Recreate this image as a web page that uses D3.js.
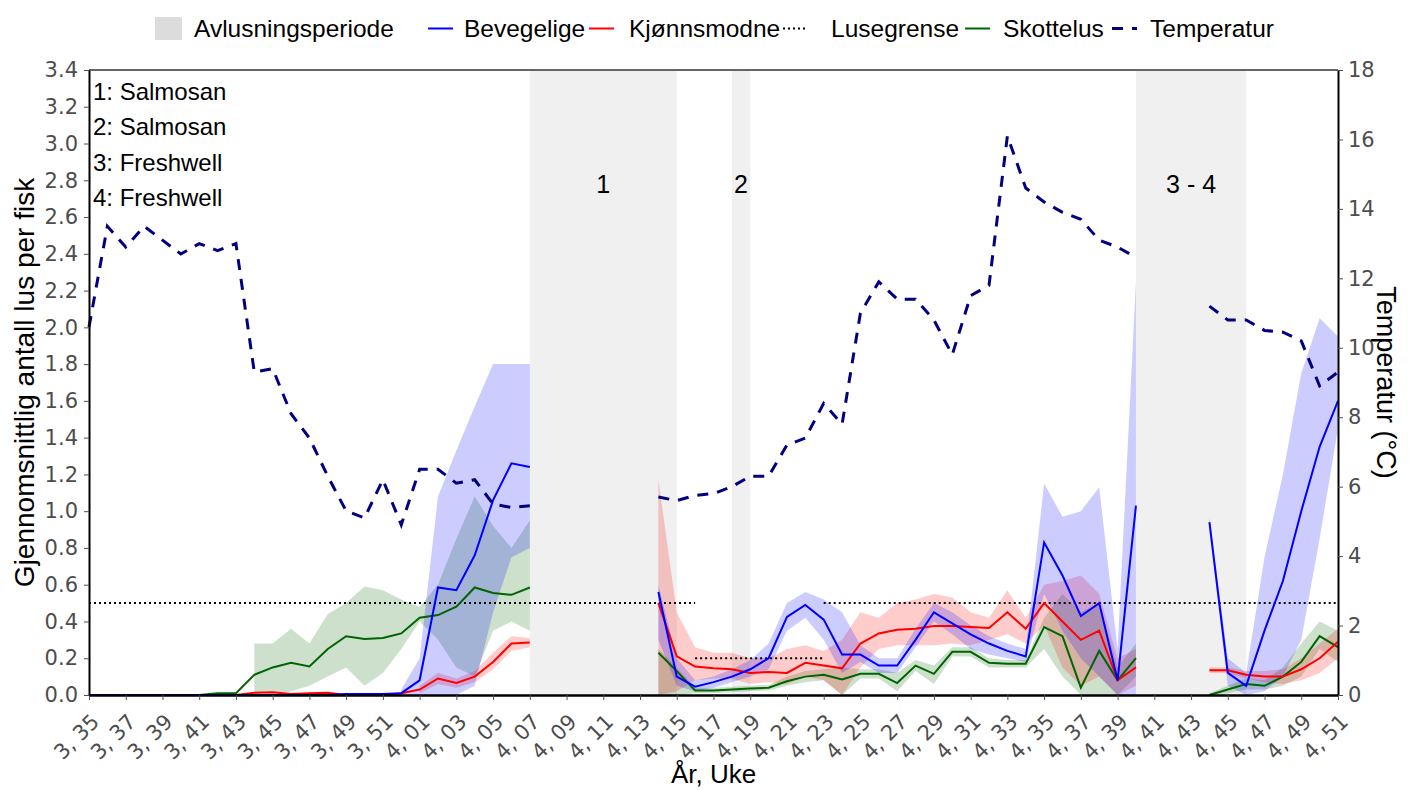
<!DOCTYPE html>
<html>
<head>
<meta charset="utf-8">
<script src="https://cdn.jsdelivr.net/npm/d3@7"></script>
<style>
  body { margin: 0; background: #fff; }
  text { font-family: "Liberation Sans", Arial, sans-serif; }
  .tick text { font-family: "DejaVu Sans", Verdana, sans-serif; }
</style>
</head>
<body>
<div id="d3-container"></div>
<script>
// weeks (year, week) on the x axis
const weeks = [
  '3, 35','3, 36','3, 37','3, 38','3, 39','3, 40','3, 41','3, 42','3, 43','3, 44','3, 45','3, 46','3, 47','3, 48','3, 49','3, 50','3, 51','3, 52',
  '4, 01','4, 02','4, 03','4, 04','4, 05','4, 06','4, 07','4, 08','4, 09','4, 10','4, 11','4, 12','4, 13','4, 14','4, 15','4, 16','4, 17','4, 18',
  '4, 19','4, 20','4, 21','4, 22','4, 23','4, 24','4, 25','4, 26','4, 27','4, 28','4, 29','4, 30','4, 31','4, 32','4, 33','4, 34','4, 35',
  '4, 36','4, 37','4, 38','4, 39','4, 40','4, 41','4, 42','4, 43','4, 44','4, 45','4, 46','4, 47','4, 48','4, 49','4, 50','4, 51'
];
const tickWeeks = [
  '3, 35','3, 37','3, 39','3, 41','3, 43','3, 45','3, 47','3, 49','3, 51',
  '4, 01','4, 03','4, 05','4, 07','4, 09','4, 11','4, 13','4, 15','4, 17','4, 19','4, 21','4, 23','4, 25',
  '4, 27','4, 29','4, 31','4, 33','4, 35','4, 37','4, 39','4, 41','4, 43','4, 45','4, 47','4, 49','4, 51'
];
const yTicks = [0, 0.2, 0.4, 0.6, 0.8, 1.0, 1.2, 1.4, 1.6, 1.8, 2.0, 2.2, 2.4, 2.6, 2.8, 3.0, 3.2, 3.4];
const tempTicks = [0, 2, 4, 6, 8, 10, 12, 14, 16, 18];

const N = null;
// Bevegelige (mobile lice)
const bevegelige = [
  0,0,0,0,0,0,0,0,0,0,0,0,0,0,0.005,0.005,0.005,0.01,
  0.08,0.585,0.57,0.76,1.06,1.26,1.24,N,N,N,N,N,N,0.56,0.10,0.045,0.07,0.10,
  0.14,0.20,0.425,0.49,0.41,0.22,0.22,0.16,0.16,0.30,0.45,0.39,0.33,0.28,0.24,0.21,0.83,
  0.65,0.43,0.50,0.08,1.03,N,N,N,0.94,0.12,0.05,0.35,0.62,1.0,1.35,1.6
];
const bevegeligeLo = [
  N,N,N,N,N,N,N,N,N,N,N,N,N,N,N,N,N,0,
  0,0,0,0.05,0.45,0.75,0.8,N,N,N,N,N,N,0.3,0.05,0.02,0.04,0.07,
  0.1,0.14,0.35,0.42,0.3,0.12,0.18,0.12,0.12,0.26,0.4,0.33,0.25,0.22,0.2,0.18,0.55,
  0.35,0.2,0.1,0,0,N,N,N,0.9,0.05,0,0.02,0.1,0.3,0.85,1.45
];
const bevegeligeHi = [
  N,N,N,N,N,N,N,N,N,N,N,N,N,N,N,N,N,0.03,
  0.2,1.08,1.33,1.57,1.8,1.8,1.8,N,N,N,N,N,N,0.6,0.2,0.08,0.1,0.14,
  0.19,0.28,0.5,0.56,0.52,0.45,0.27,0.2,0.2,0.36,0.5,0.45,0.38,0.32,0.28,0.25,1.15,
  0.97,1.0,1.13,0.25,2.25,N,N,N,0.97,0.2,0.12,0.75,1.2,1.75,2.05,1.95
];
// Kjønnsmodne (adult female lice)
const kjonnsmodne = [
  0,0,0,0,0,0,0,0,0,0.012,0.015,0.005,0.01,0.012,0,0,0,0.01,
  0.03,0.09,0.065,0.10,0.18,0.28,0.285,N,N,N,N,N,N,0.5,0.21,0.155,0.145,0.14,
  0.12,0.125,0.12,0.175,0.16,0.145,0.28,0.335,0.355,0.36,0.375,0.375,0.37,0.365,0.45,0.36,0.5,
  0.4,0.3,0.35,0.08,0.15,N,N,N,0.135,0.135,0.11,0.1,0.1,0.14,0.2,0.29
];
const kjonnsmodneLo = [
  N,N,N,N,N,N,N,N,N,N,N,N,N,N,N,N,N,N,
  0.01,0.06,0.04,0.07,0.14,0.24,0.26,N,N,N,N,N,N,0,0.02,0.08,0.09,0.09,
  0.06,0.07,0.06,0.1,0.08,0,0.15,0.25,0.27,0.27,0.27,0.28,0.27,0.3,0.33,0.28,0.38,
  0.15,0.05,0.1,0,0.05,N,N,N,0.12,0.12,0.09,0.07,0.06,0.08,0.12,0.2
];
const kjonnsmodneHi = [
  N,N,N,N,N,N,N,N,N,N,N,N,N,N,N,N,N,N,
  0.05,0.12,0.09,0.13,0.23,0.32,0.31,N,N,N,N,N,N,1.17,0.45,0.26,0.23,0.23,
  0.2,0.2,0.25,0.27,0.24,0.3,0.45,0.42,0.5,0.52,0.55,0.53,0.45,0.42,0.57,0.42,0.6,
  0.62,0.65,0.55,0.2,0.25,N,N,N,0.15,0.15,0.13,0.13,0.14,0.2,0.28,0.36
];
// Skottelus (Caligus)
const skottelus = [
  0,0,0,0,0,0,0,0.01,0.01,0.11,0.15,0.175,0.155,0.25,0.32,0.305,0.31,0.335,
  0.42,0.435,0.48,0.585,0.555,0.545,0.585,N,N,N,N,N,N,0.23,0.13,0.025,0.025,0.03,
  0.035,0.04,0.075,0.1,0.11,0.085,0.115,0.115,0.065,0.16,0.115,0.235,0.235,0.175,0.17,0.17,0.37,
  0.32,0.04,0.24,0.08,0.2,N,N,N,0,0.03,0.06,0.05,0.1,0.18,0.32,0.26
];
const skottelusLo = [
  N,N,N,N,N,N,N,N,N,0,0,0.02,0.05,0.1,0.15,0.05,0.12,0.25,
  0.4,0.3,0.15,0.1,0.35,0.4,0.35,N,N,N,N,N,N,0,0,0.01,0.01,0.015,
  0.02,0.025,0.05,0.07,0.08,0,0.09,0.09,0.02,0.13,0.06,0.21,0.21,0.15,0.15,0.15,0.25,
  0.1,0,0,0,0.1,N,N,N,0,0.01,0.03,0.03,0.05,0.1,0.25,0.18
];
const skottelusHi = [
  N,N,N,N,N,N,N,N,N,0.28,0.28,0.36,0.28,0.44,0.5,0.59,0.57,0.52,
  0.48,0.6,0.85,1.08,0.92,0.8,0.95,N,N,N,N,N,N,0.25,0.15,0.04,0.04,0.045,
  0.05,0.055,0.1,0.13,0.14,0.15,0.14,0.14,0.12,0.19,0.16,0.26,0.26,0.2,0.19,0.19,0.42,
  0.55,0.45,0.5,0.15,0.28,N,N,N,0.01,0.05,0.09,0.08,0.15,0.28,0.4,0.35
];
// Temperatur (°C)
const temperatur = [
  10.6,13.5,12.9,13.5,13.1,12.7,13.0,12.8,13.0,9.3,9.4,8.1,7.4,6.3,5.3,5.1,6.2,4.9,
  6.5,6.5,6.1,6.2,5.5,5.4,5.45,N,N,N,N,N,N,5.7,5.6,5.75,5.8,6.0,
  6.3,6.3,7.2,7.4,8.4,7.8,11.0,11.9,11.4,11.4,10.8,9.8,11.5,11.8,16.1,14.6,14.2,
  13.9,13.7,13.1,12.9,12.6,N,N,N,11.2,10.8,10.8,10.5,10.45,10.2,8.9,9.3
];
// Lusegrense (lice limit) segments
const lusegrenseFrom = ['3, 35', '4, 16', '4, 23'];
const lusegrenseTo = ['4, 16', '4, 23', '4, 51'];
const lusegrenseValue = [0.5, 0.2, 0.5];
// Avlusningsperioder (treatment periods)
const treatFrom = ['4, 07', '4, 18', '4, 40'];
const treatTo = ['4, 15', '4, 19', '4, 46'];
const treatLabel = ['1', '2', '3 - 4'];
const treatNotes = ['1: Salmosan', '2: Salmosan', '3: Freshwell', '4: Freshwell'];

const width = 1409;
const height = 790;
const margin = { top: 70, bottom: 95, left: 89, right: 71 };

const svg = d3.select('#d3-container')
  .append('svg')
  .attr('width', width)
  .attr('height', height);

const x = d3.scalePoint()
  .domain(weeks)
  .range([margin.left, width - margin.right]);

const y = d3.scaleLinear()
  .domain([0, 3.4])
  .range([height - margin.bottom, margin.top]);

const yTemp = d3.scaleLinear()
  .domain([0, 18])
  .range([height - margin.bottom, margin.top]);

// treatment periods
svg.append('g')
  .selectAll('rect')
  .data(treatLabel)
  .join('rect')
    .attr('x', (d, i) => x(treatFrom[i]))
    .attr('y', margin.top)
    .attr('width', (d, i) => x(treatTo[i]) - x(treatFrom[i]))
    .attr('height', y(0) - margin.top)
    .attr('fill', '#f0f0f0');

svg.append('g')
  .selectAll('text')
  .data(treatLabel)
  .join('text')
    .attr('x', (d, i) => (x(treatFrom[i]) + x(treatTo[i])) / 2)
    .attr('y', 193)
    .attr('text-anchor', 'middle')
    .attr('font-size', '25px')
    .attr('fill', '#000')
    .text(d => d);

// bands
function band(lo, hi, color) {
  const area = d3.area()
    .defined((d, i) => lo[i] != null && hi[i] != null)
    .x((d, i) => x(weeks[i]))
    .y0((d, i) => y(lo[i]))
    .y1((d, i) => y(hi[i]));
  svg.append('path')
    .datum(weeks)
    .attr('d', area)
    .attr('fill', color)
    .attr('fill-opacity', 0.2);
}
band(skottelusLo, skottelusHi, '#006400');
band(kjonnsmodneLo, kjonnsmodneHi, '#ff0000');
band(bevegeligeLo, bevegeligeHi, '#0000ff');

// lice limit
svg.append('g')
  .selectAll('line')
  .data(lusegrenseValue)
  .join('line')
    .attr('x1', (d, i) => x(lusegrenseFrom[i]))
    .attr('x2', (d, i) => x(lusegrenseTo[i]))
    .attr('y1', d => y(d))
    .attr('y2', d => y(d))
    .attr('stroke', '#000')
    .attr('stroke-width', 2)
    .attr('stroke-dasharray', '2,3');

function series(values, scale, color, widthPx, dash) {
  const line = d3.line()
    .defined(d => d != null)
    .x((d, i) => x(weeks[i]))
    .y(d => scale(d));
  svg.append('path')
    .datum(values)
    .attr('d', line)
    .attr('fill', 'none')
    .attr('stroke', color)
    .attr('stroke-width', widthPx)
    .attr('stroke-dasharray', dash || null);
}
series(skottelus, y, '#006400', 2);
series(kjonnsmodne, y, '#ff0000', 2);
series(bevegelige, y, '#0000ff', 2);
series(temperatur, yTemp, '#000080', 3, '11,9');

// frame
svg.append('line')
  .attr('x1', margin.left).attr('x2', width - margin.right)
  .attr('y1', margin.top).attr('y2', margin.top)
  .attr('stroke', '#666').attr('stroke-width', 2);

function yAxis(g) {
  g.attr('transform', `translate(${margin.left},0)`)
    .call(d3.axisLeft(y).tickValues(yTicks).tickFormat(d3.format('.1f')).tickSize(5).tickSizeOuter(0).tickPadding(6))
    .attr('font-size', '21px')
    .attr('font-family', null);
  g.select('.domain').attr('stroke', '#000').attr('stroke-width', 2);
  g.selectAll('.tick line').attr('stroke', '#4d4d4d');
  g.selectAll('.tick text').attr('fill', '#4d4d4d');
}

function yAxisRight(g) {
  g.attr('transform', `translate(${width - margin.right},0)`)
    .call(d3.axisRight(yTemp).tickValues(tempTicks).tickSize(5).tickSizeOuter(0).tickPadding(5))
    .attr('font-size', '21px')
    .attr('font-family', null);
  g.select('.domain').attr('stroke', '#000').attr('stroke-width', 2);
  g.selectAll('.tick line').attr('stroke', '#4d4d4d');
  g.selectAll('.tick text').attr('fill', '#4d4d4d');
}

function xAxis(g) {
  g.attr('transform', `translate(0,${height - margin.bottom})`)
    .call(d3.axisBottom(x).tickValues(tickWeeks).tickSize(5).tickSizeOuter(0))
    .attr('font-size', '21px')
    .attr('font-family', null);
  g.select('.domain').attr('stroke', '#000').attr('stroke-width', 2.5);
  g.selectAll('.tick line').attr('stroke', '#4d4d4d');
  g.selectAll('.tick text')
    .attr('fill', '#4d4d4d')
    .attr('x', 0)
    .attr('y', 0)
    .attr('dy', null)
    .attr('text-anchor', 'end')
    .attr('transform', 'translate(11,28) rotate(-45)');
}

svg.append('g').call(xAxis);
svg.append('g').call(yAxis);
svg.append('g').call(yAxisRight);

// axis titles
svg.append('text')
  .attr('transform', `translate(34,${(margin.top + height - margin.bottom) / 2}) rotate(-90)`)
  .attr('text-anchor', 'middle')
  .attr('font-size', '28px')
  .text('Gjennomsnittlig antall lus per fisk');

svg.append('text')
  .attr('transform', `translate(1377,${(margin.top + height - margin.bottom) / 2}) rotate(90)`)
  .attr('text-anchor', 'middle')
  .attr('font-size', '27px')
  .text('Temperatur (°C)');

svg.append('text')
  .attr('x', (margin.left + width - margin.right) / 2)
  .attr('y', 783)
  .attr('text-anchor', 'middle')
  .attr('font-size', '26px')
  .text('År, Uke');

// treatment notes
svg.append('g')
  .selectAll('text')
  .data(treatNotes)
  .join('text')
    .attr('x', 93)
    .attr('y', (d, i) => 100 + i * 35.3)
    .attr('font-size', '24px')
    .text(d => d);

// legend
const legendNames = ['Avlusningsperiode', 'Bevegelige', 'Kjønnsmodne', 'Lusegrense', 'Skottelus', 'Temperatur'];
const legendKeyX = [155, 428, 589, 783, 965, 1112];
const legendTextX = [194, 464, 629, 831, 1003, 1150];
const legendColor = ['#dcdcdc', '#0000ff', '#ff0000', '#000', '#006400', '#000080'];
const legendDash = [null, null, null, '2,3', null, '11,9'];
const legendWidth = [null, 2, 2, 2, 2, 3];

const legend = svg.append('g');
legendNames.forEach((name, i) => {
  if (i === 0) {
    legend.append('rect')
      .attr('x', legendKeyX[i]).attr('y', 17)
      .attr('width', 27).attr('height', 23)
      .attr('fill', legendColor[i]);
  } else {
    legend.append('line')
      .attr('x1', legendKeyX[i]).attr('x2', legendKeyX[i] + 25)
      .attr('y1', 28.5).attr('y2', 28.5)
      .attr('stroke', legendColor[i])
      .attr('stroke-width', legendWidth[i])
      .attr('stroke-dasharray', legendDash[i]);
  }
  legend.append('text')
    .attr('x', legendTextX[i])
    .attr('y', 37)
    .attr('font-size', '24.5px')
    .text(name);
});
</script>
</body>
</html>
